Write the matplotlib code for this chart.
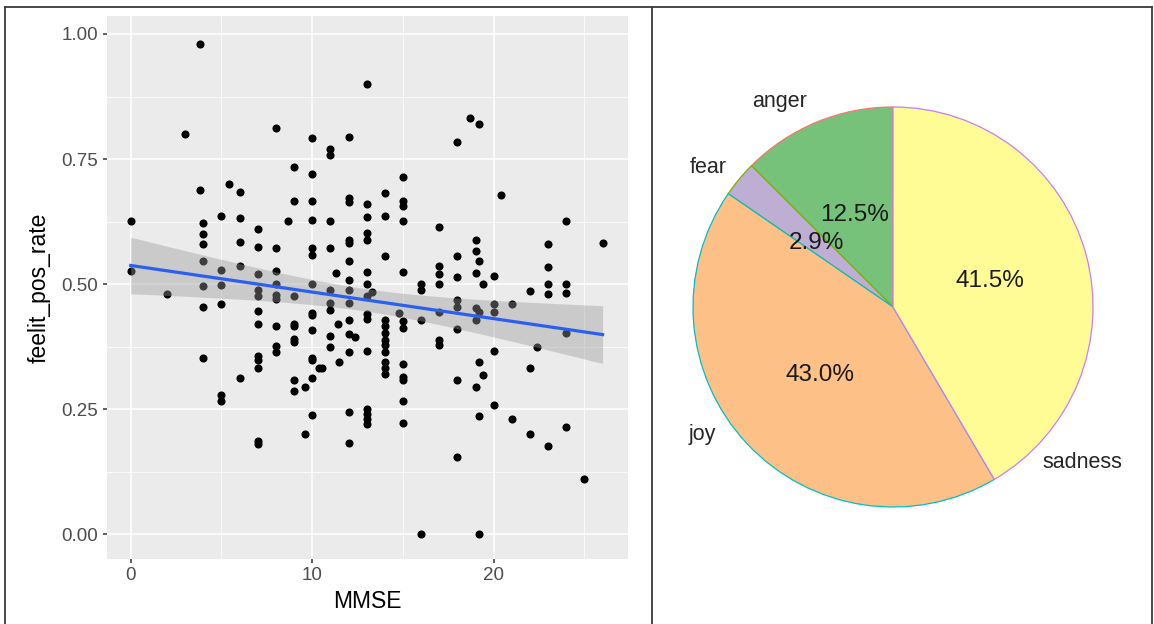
import numpy as np
import matplotlib
matplotlib.use("Agg")
import matplotlib.pyplot as plt
from matplotlib.lines import Line2D
from matplotlib.ticker import MultipleLocator

plt.rcParams["font.family"] = ["Liberation Sans", "DejaVu Sans"]

# scatter data: MMSE score vs feelit_pos_rate
mmse = (
    [0, 0, 2, 3, 3.8, 3.8]
    + [4] * 7 + [5] * 6 + [5.4] + [6] * 5 + [7] * 12 + [8] * 9 + [8.67]
    + [9] * 9 + [9.6] * 2 + [10] * 14 + [10.4, 10.55] + [11] * 9
    + [11.3, 11.4, 11.5] + [12] * 14 + [12.35] + [13] * 15 + [13.3]
    + [14] * 12 + [14.8] + [15] * 12 + [16] * 4 + [17] * 7 + [18] * 8
    + [18.7] + [19] * 6 + [19.2] * 6 + [19.4] * 2 + [20] * 5 + [20.4]
    + [21] * 2 + [22] * 3 + [22.4] + [23] * 5 + [24] * 5 + [25, 26]
)
pos_rate = (
    [0.626, 0.527, 0.48, 0.80, 0.98, 0.688]
    + [0.622, 0.601, 0.58, 0.546, 0.496, 0.455, 0.353]
    + [0.637, 0.528, 0.499, 0.46, 0.279, 0.267]
    + [0.70]
    + [0.685, 0.633, 0.584, 0.537, 0.313]
    + [0.611, 0.575, 0.521, 0.488, 0.476, 0.446, 0.421, 0.356, 0.348, 0.333, 0.187, 0.18]
    + [0.813, 0.572, 0.527, 0.501, 0.479, 0.471, 0.417, 0.377, 0.365]
    + [0.626]
    + [0.735, 0.667, 0.477, 0.421, 0.416, 0.391, 0.385, 0.308, 0.287]
    + [0.295, 0.201]
    + [0.793, 0.721, 0.667, 0.628, 0.573, 0.559, 0.50, 0.443, 0.438, 0.408, 0.353, 0.348, 0.313, 0.239]
    + [0.333, 0.333]
    + [0.77, 0.759, 0.626, 0.573, 0.488, 0.462, 0.448, 0.396, 0.375]
    + [0.523, 0.421, 0.345]
    + [0.795, 0.673, 0.665, 0.589, 0.583, 0.546, 0.508, 0.488, 0.462, 0.429, 0.401, 0.365, 0.245, 0.183]
    + [0.395]
    + [0.90, 0.661, 0.635, 0.602, 0.588, 0.524, 0.501, 0.477, 0.441, 0.431, 0.367, 0.251, 0.241, 0.231, 0.221]
    + [0.485]
    + [0.683, 0.637, 0.556, 0.429, 0.416, 0.403, 0.389, 0.378, 0.365, 0.345, 0.333, 0.321]
    + [0.443]
    + [0.715, 0.667, 0.657, 0.626, 0.524, 0.426, 0.412, 0.341, 0.315, 0.308, 0.267, 0.223]
    + [0.501, 0.488, 0.429, 0.0]
    + [0.615, 0.536, 0.52, 0.50, 0.445, 0.389, 0.378]
    + [0.785, 0.556, 0.515, 0.468, 0.455, 0.411, 0.309, 0.155]
    + [0.833]
    + [0.589, 0.566, 0.523, 0.453, 0.428, 0.295]
    + [0.821, 0.546, 0.445, 0.345, 0.237, 0.0]
    + [0.50, 0.318]
    + [0.516, 0.46, 0.445, 0.367, 0.258]
    + [0.679]
    + [0.461, 0.231]
    + [0.486, 0.333, 0.201]
    + [0.375]
    + [0.58, 0.534, 0.50, 0.481, 0.177]
    + [0.626, 0.50, 0.483, 0.403, 0.215]
    + [0.111, 0.583]
)

# pie data
emotions = ["anger", "fear", "joy", "sadness"]
shares = [12.5, 2.9, 43.0, 41.5]
fill_colors = ["#77C27B", "#BEAED4", "#FDC086", "#FFFB95"]
edge_colors = ["#F8766D", "#7CAE00", "#00BFC4", "#C77CFF"]

x = np.array(mmse, dtype=float)
y = np.array(pos_rate, dtype=float)

# linear fit + 95% confidence band (like geom_smooth(method="lm"))
slope, intercept = np.polyfit(x, y, 1)
xs = np.linspace(x.min(), x.max(), 80)
fit = intercept + slope * xs
n = len(x)
resid = y - (intercept + slope * x)
s_err = np.sqrt(np.sum(resid ** 2) / (n - 2))
se = s_err * np.sqrt(1 / n + (xs - x.mean()) ** 2 / np.sum((x - x.mean()) ** 2))
t_crit = 1.972

fig = plt.figure(figsize=(11.54, 6.24), dpi=100)

# --- left: scatter ---
ax = fig.add_axes([0.0925, 0.1046, 0.4517, 0.8698])
ax.set_facecolor("#EBEBEB")
for sp in ax.spines.values():
    sp.set_visible(False)
ax.xaxis.set_major_locator(MultipleLocator(10))
ax.xaxis.set_minor_locator(MultipleLocator(5))
ax.yaxis.set_major_locator(MultipleLocator(0.25))
ax.yaxis.set_minor_locator(MultipleLocator(0.125))
ax.grid(which="major", color="white", linewidth=1.1)
ax.grid(which="minor", color="white", linewidth=0.55)
ax.set_axisbelow(True)
ax.tick_params(which="major", length=3, width=1.1, color="#333333",
               labelcolor="#4D4D4D", labelsize=13.5, pad=3)
ax.tick_params(which="minor", length=0)

ax.scatter(x, y, s=34, color="black", linewidths=0, zorder=2)
ax.fill_between(xs, fit - t_crit * se, fit + t_crit * se, color="#999999",
                alpha=0.4, linewidth=0, zorder=3)
ax.plot(xs, fit, color="#2A5FF0", linewidth=2.3, zorder=4)

ax.set_xlim(-1.32, 27.4)
ax.set_ylim(-0.049, 1.036)
ax.set_yticks([0, 0.25, 0.5, 0.75, 1.0])
ax.set_yticklabels(["0.00", "0.25", "0.50", "0.75", "1.00"])
ax.set_xlabel("MMSE", fontsize=16.5, labelpad=4)
ax.set_ylabel("feelit_pos_rate", fontsize=16.5, labelpad=8)

# --- right: pie ---
ax2 = fig.add_axes([0.5572, 0.1074, 0.4333, 0.8013])
wedges, texts, autotexts = ax2.pie(
    shares, labels=emotions, colors=fill_colors, startangle=90,
    counterclock=True, autopct="%1.1f%%", pctdistance=0.5,
    wedgeprops=dict(linewidth=0.9),
    textprops=dict(fontsize=15.5, color="#262626"),
)
for w, ec in zip(wedges, edge_colors):
    w.set_edgecolor(ec)
for t in autotexts:
    t.set_fontsize(17.5)
    t.set_color("#1A1A1A")

# outer label spots as laid out in the source figure
label_pos = {"anger": (-0.43, 1.025, "right"), "fear": (-0.83, 0.695, "right"),
             "joy": (-0.885, -0.64, "right"), "sadness": (0.745, -0.78, "left")}
for t in texts:
    lx, ly, ha = label_pos[t.get_text()]
    t.set_position((lx, ly))
    t.set_ha(ha)
    t.set_va("center")
ax2.set_xlim(-1.25, 1.25)
ax2.set_ylim(-1.25, 1.25)
ax2.set_aspect("equal")
ax2.axis("off")

# table-like frame around the two panels
frame = dict(color="#3A3A3A", linewidth=1.3, transform=fig.transFigure)
fig.add_artist(Line2D([0.0043, 0.9983], [0.9888, 0.9888], **frame))
fig.add_artist(Line2D([0.0043, 0.0043], [0.0, 0.9888], **frame))
fig.add_artist(Line2D([0.565, 0.565], [0.0, 0.9888], **frame))
fig.add_artist(Line2D([0.9983, 0.9983], [0.0, 0.9888], **frame))

fig.savefig("out.png", dpi=100)
plt.close(fig)
